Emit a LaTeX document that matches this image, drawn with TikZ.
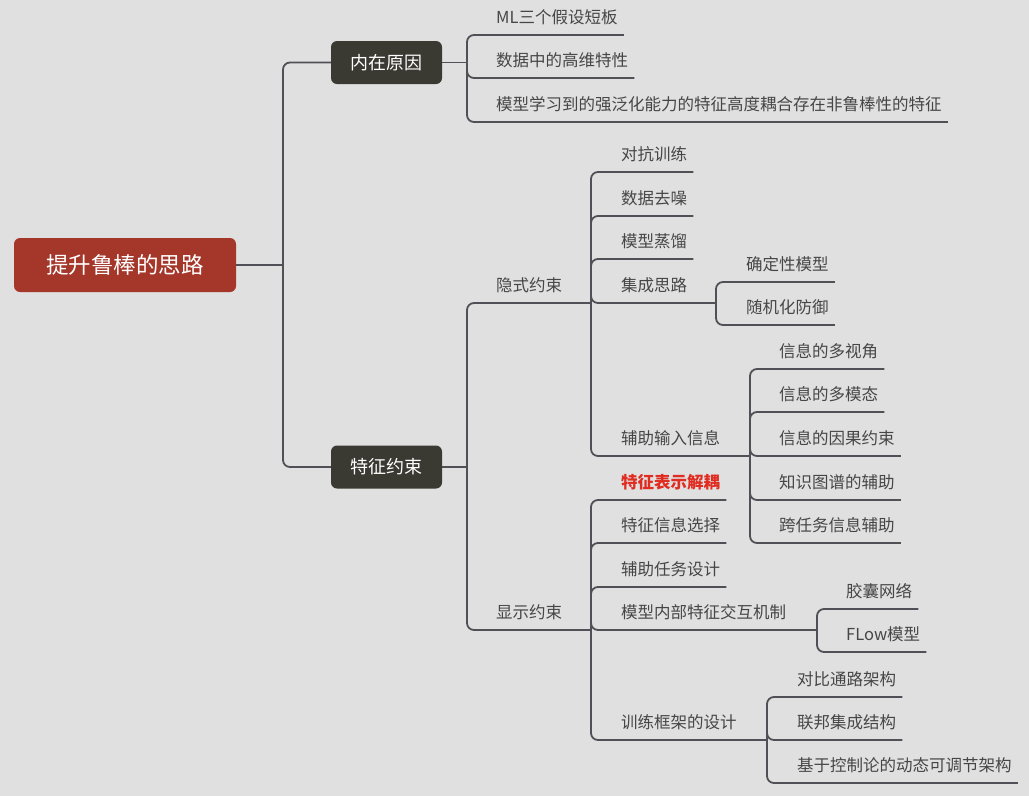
\documentclass[tikz,border=0pt]{standalone}
\usepackage{fontspec}
\setmainfont{Noto Sans CJK SC}
\definecolor{bgc}{HTML}{E0E0E0}
\definecolor{rootc}{HTML}{A4362A}
\definecolor{darkc}{HTML}{3A3932}
\definecolor{linec}{HTML}{505056}
\definecolor{leafc}{HTML}{464646}
\definecolor{hotc}{HTML}{E02D22}
\begin{document}
\begin{tikzpicture}[x=1pt,y=-1pt,
  conn/.style={draw=linec, line width=1.8pt, rounded corners=7pt},
  leaf/.style={anchor=south west, inner xsep=0pt, inner ysep=11pt, text height=12pt, text depth=0pt, font=\fontsize{16.5}{18}\selectfont, text=leafc},
  hot/.style={leaf, text=hotc, font=\fontsize{16.5}{18}\selectfont\bfseries},
  topic/.style={fill=darkc, rounded corners=6pt, minimum width=111pt, minimum height=43pt, inner sep=0pt, text=white, font=\fontsize{18}{20}\selectfont, text height=15.6pt, text depth=2pt},
  rootbox/.style={fill=rootc, rounded corners=6pt, minimum width=222pt, minimum height=54pt, inner sep=0pt, text=white, font=\fontsize{22.5}{24}\selectfont, text height=19pt, text depth=2pt}]
\fill[bgc] (0,0) rectangle (1029,796);
\useasboundingbox (0,0) rectangle (1029,796);

% root and main topics
\node[rootbox] (root) at (125,265) {提升鲁棒的思路};
\node[topic] (nz) at (386.5,62.5) {内在原因};
\node[topic] (tz) at (386.5,467) {特征约束};
\coordinate (T0) at (283,265);
\draw[conn] (root.east) -- (T0);
\draw[conn] (T0) |- (nz.west);
\draw[conn] (T0) |- (tz.west);

% 内在原因
\coordinate (T1) at (467,62.5);
\draw[conn] (nz.east) -- (T1);
\node[leaf] (a1) at (496,35) {ML三个假设短板};
\node[leaf] (a2) at (496,78) {数据中的高维特性};
\node[leaf] (a3) at (496,122) {模型学习到的强泛化能力的特征高度耦合存在非鲁棒性的特征};
\foreach \n in {a1,a2,a3} \draw[conn] (T1) |- ([xshift=6pt]\n.south east);

% 特征约束
\coordinate (T2) at (467,467);
\draw[conn] (tz.east) -- (T2);
\node[leaf] (yin) at (496,303) {隐式约束};
\node[leaf] (xian) at (496,630) {显示约束};
\coordinate (T3) at (591,303);
\coordinate (T6) at (591,630);
\draw[conn] (T2) |- (T3);
\draw[conn] (T2) |- (T6);

% 隐式约束
\node[leaf] (b1) at (621,172) {对抗训练};
\node[leaf] (b2) at (621,216) {数据去噪};
\node[leaf] (b3) at (621,259) {模型蒸馏};
\node[leaf] (b4) at (621,303) {集成思路};
\node[leaf] (b5) at (621,456) {辅助输入信息};
\foreach \n in {b1,b2,b3} \draw[conn] (T3) |- ([xshift=6pt]\n.south east);
\coordinate (T4) at (716,303);
\coordinate (T5) at (750,456);
\draw[conn] (T3) |- (T4);
\draw[conn] (T3) |- (T5);

% 集成思路
\node[leaf] (c1) at (746,282) {确定性模型};
\node[leaf] (c2) at (746,325) {随机化防御};
\foreach \n in {c1,c2} \draw[conn] (T4) |- ([xshift=6pt]\n.south east);

% 辅助输入信息
\node[leaf] (d1) at (779,369) {信息的多视角};
\node[leaf] (d2) at (779,412) {信息的多模态};
\node[leaf] (d3) at (779,456) {信息的因果约束};
\node[leaf] (d4) at (779,500) {知识图谱的辅助};
\node[leaf] (d5) at (779,543) {跨任务信息辅助};
\foreach \n in {d1,d2,d3,d4,d5} \draw[conn] (T5) |- ([xshift=6pt]\n.south east);

% 显示约束
\node[hot] (e1) at (621,500) {特征表示解耦};
\node[leaf] (e2) at (621,543) {特征信息选择};
\node[leaf] (e3) at (621,587) {辅助任务设计};
\node[leaf] (e4) at (621,630) {模型内部特征交互机制};
\node[leaf] (e5) at (621,740) {训练框架的设计};
\foreach \n in {e1,e2,e3} \draw[conn] (T6) |- ([xshift=6pt]\n.south east);
\coordinate (T7) at (817,630);
\coordinate (T8) at (767,740);
\draw[conn] (T6) |- (T7);
\draw[conn] (T6) |- (T8);

% 模型内部特征交互机制
\node[leaf] (f1) at (846,609) {胶囊网络};
\node[leaf] (f2) at (846,652) {FLow模型};
\foreach \n in {f1,f2} \draw[conn] (T7) |- ([xshift=6pt]\n.south east);

% 训练框架的设计
\node[leaf] (g1) at (797,697) {对比通路架构};
\node[leaf] (g2) at (797,740) {联邦集成结构};
\node[leaf] (g3) at (797,783) {基于控制论的动态可调节架构};
\foreach \n in {g1,g2,g3} \draw[conn] (T8) |- ([xshift=6pt]\n.south east);
\end{tikzpicture}
\end{document}
